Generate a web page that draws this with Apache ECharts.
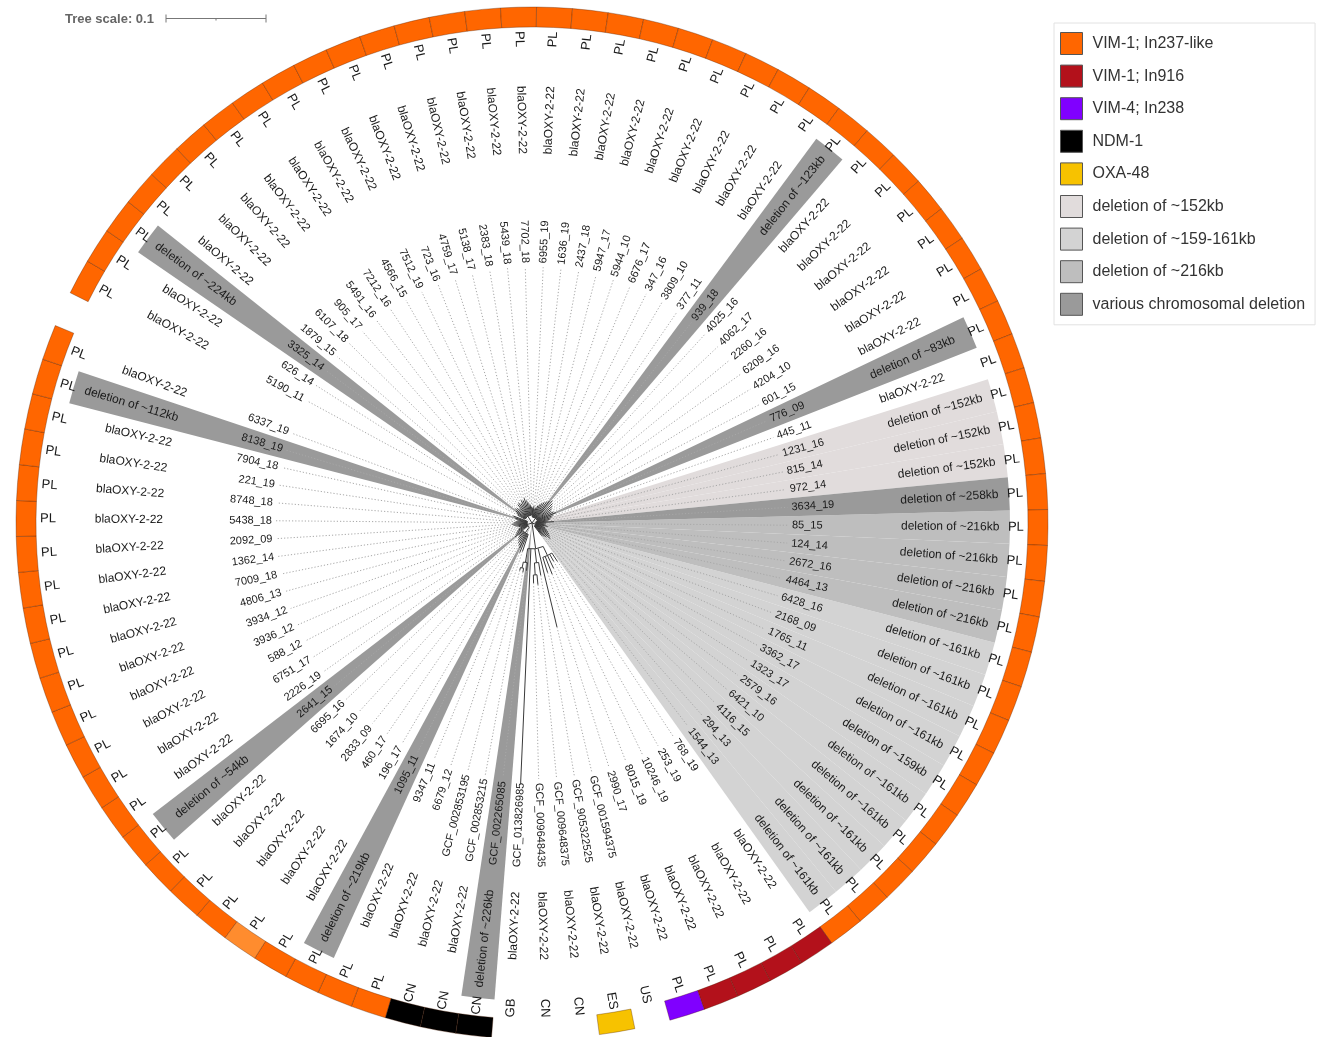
<!DOCTYPE html>
<html>
<head>
<meta charset="utf-8">
<title>blaOXY-2-22 phylogeny</title>
<script src="https://cdn.jsdelivr.net/npm/echarts@6.0.0/dist/echarts.min.js"></script>
<style>
  html, body { margin: 0; padding: 0; background: #fff; }
  #chart { width: 1319px; height: 1037px; }
</style>
</head>
<body>
<div id="chart"></div>
<script>
// Leaves in clockwise order, starting right after the gap in the circle.
const leafIds = [
  '5190_11','626_14','3325_14','1879_15','6107_18','905_17','5491_16','7212_16','4566_15','7512_19',
  '723_16','4759_17','5138_17','2383_18','5439_18','7702_18','6955_19','1636_19','2437_18','5947_17',
  '5944_10','6676_17','347_16','3809_10','377_11','939_18','4025_16','4062_17','2260_16','6209_16',
  '4204_10','601_15','776_09','445_11','1231_16','815_14','972_14','3634_19','85_15','124_14',
  '2672_16','4464_13','6428_16','2168_09','1765_11','3362_17','1323_17','2579_16','6421_10','4116_15',
  '294_13','1544_13','768_19','253_19','10246_19','8015_19','2990_17','GCF_001594375','GCF_905322525','GCF_009648375',
  'GCF_009648435','GCF_013826985','GCF_002265085','GCF_002853215','GCF_002853195','6679_12','9347_11','1095_11','196_17','460_17',
  '2833_09','1674_10','6695_16','2641_15','2226_19','6751_17','588_12','3936_12','3934_12','4806_13',
  '7009_18','1362_14','2092_09','5438_18','8748_18','221_19','7904_18','8138_19','6337_19'
];

const countries = [
  'PL','PL','PL','PL','PL','PL','PL','PL','PL','PL',
  'PL','PL','PL','PL','PL','PL','PL','PL','PL','PL',
  'PL','PL','PL','PL','PL','PL','PL','PL','PL','PL',
  'PL','PL','PL','PL','PL','PL','PL','PL','PL','PL',
  'PL','PL','PL','PL','PL','PL','PL','PL','PL','PL',
  'PL','PL','PL','PL','PL','PL','PL','US','ES','CN',
  'CN','GB','CN','CN','CN','PL','PL','PL','PL','PL',
  'PL','PL','PL','PL','PL','PL','PL','PL','PL','PL',
  'PL','PL','PL','PL','PL','PL','PL','PL','PL'
];

// Carbapenemase / integron class per leaf ('' = none)
const carbapenemase = [
  'I237','I237','I237','I237','I237','I237','I237','I237','I237','I237',
  'I237','I237','I237','I237','I237','I237','I237','I237','I237','I237',
  'I237','I237','I237','I237','I237','I237','I237','I237','I237','I237',
  'I237','I237','I237','I237','I237','I237','I237','I237','I237','I237',
  'I237','I237','I237','I237','I237','I237','I237','I237','I237','I237',
  'I237','I237','I916','I916','I916','I916','V4','','OXA','',
  '','','NDM','NDM','NDM','I237','I237','I237','I237','I237L',
  'I237','I237','I237','I237','I237','I237','I237','I237','I237','I237',
  'I237','I237','I237','I237','I237','I237','I237','I237','I237'
];

const B = 'blaOXY-2-22';
const geneLabels = [
  B,B,'deletion of ~224kb',B,B,B,B,B,B,B,
  B,B,B,B,B,B,B,B,B,B,
  B,B,B,B,B,'deletion of ~123kb',B,B,B,B,
  B,B,'deletion of ~83kb',B,'deletion of ~152kb','deletion of ~152kb','deletion of ~152kb','deletion of ~258kb','deletion of ~216kb','deletion of ~216kb',
  'deletion of ~216kb','deletion of ~216kb','deletion of ~161kb','deletion of ~161kb','deletion of ~161kb','deletion of ~161kb','deletion of ~159kb','deletion of ~161kb','deletion of ~161kb','deletion of ~161kb',
  'deletion of ~161kb','deletion of ~161kb',B,B,B,B,B,B,B,B,
  B,B,'deletion of ~226kb',B,B,B,B,'deletion of ~219kb',B,B,
  B,B,B,'deletion of ~54kb',B,B,B,B,B,B,
  B,B,B,B,B,B,B,'deletion of ~112kb',B
];

// Deletion class per leaf ('' = no shading)
const deletionClass = [
  '','','var','','','','','','','',
  '','','','','','','','','','',
  '','','','','','var','','','','',
  '','','var','','d152','d152','d152','var','d216','d216',
  'd216','d216','d161','d161','d161','d161','d161','d161','d161','d161',
  'd161','d161','','','','','','','','',
  '','','var','','','','','var','','',
  '','','','var','','','','','','',
  '','','','','','','','var',''
];

// Tip distance from the root (substitutions per site)
const leafDepth = [
  0.016,0.018,0.020,0.022,0.021,0.019,0.023,0.024,0.022,0.025,
  0.024,0.026,0.023,0.020,0.018,0.016,0.015,0.017,0.014,0.016,
  0.018,0.020,0.022,0.024,0.026,0.028,0.030,0.028,0.026,0.024,
  0.022,0.024,0.026,0.022,0.020,0.018,0.016,0.022,0.014,0.012,
  0.014,0.016,0.012,0.014,0.016,0.018,0.020,0.022,0.024,0.020,
  0.018,0.016,0.046,0.044,0.050,0.055,0.052,0.107,0.053,0.062,
  0.060,0.261,0.048,0.050,0.049,0.030,0.032,0.028,0.026,0.024,
  0.022,0.020,0.018,0.022,0.020,0.018,0.016,0.014,0.012,0.014,
  0.016,0.018,0.020,0.018,0.016,0.014,0.016,0.018,0.020
];

// Internal clades: [first leaf, last leaf, node depth]
const clades = [
  [0, 15, 0.008],
  [16, 33, 0.006],
  [34, 51, 0.004],
  [52, 64, 0.026],
  [52, 56, 0.036],
  [58, 60, 0.040],
  [59, 60, 0.052],
  [62, 64, 0.040],
  [63, 64, 0.046],
  [65, 88, 0.005],
  [65, 73, 0.012]
];

const ringClasses = [
  { key: 'I237', name: 'VIM-1; In237-like', color: '#ff6600' },
  { key: 'I237L', name: 'VIM-1; In237-like (variant)', color: '#ff8c2e' },
  { key: 'I916', name: 'VIM-1; In916', color: '#b3111b' },
  { key: 'V4',   name: 'VIM-4; In238', color: '#8000ff' },
  { key: 'NDM',  name: 'NDM-1', color: '#000000' },
  { key: 'OXA',  name: 'OXA-48', color: '#f7c200' }
];
const legendRing = ['I237', 'I916', 'V4', 'NDM', 'OXA'];
const deletionClasses = [
  { key: 'd152', name: 'deletion of ~152kb', color: '#e1dcdc' },
  { key: 'd161', name: 'deletion of ~159-161kb', color: '#d3d3d3' },
  { key: 'd216', name: 'deletion of ~216kb', color: '#bebebe' },
  { key: 'var',  name: 'various chromosomal deletion', color: '#9a9a9a' }
];

// ---- layout (radial axis is in tree units; 0.1 = scale bar) ----
const SLOTS = leafIds.length + 1;      // one empty slot leaves the gap
const RMAX = 0.516;
const R_WEDGE = 0.478, R_DOT_END = 0.256, R_ID = 0.260, R_GENE = 0.369, R_COUNTRY = 0.476;
const R_RING0 = 0.496, R_RING1 = 0.516;
const FONT = '"Liberation Sans", Arial, Helvetica, sans-serif';

function screenAngle(api, cs, a) {
  const p = api.coord([RMAX, a]);
  return Math.atan2(p[1] - cs.cy, p[0] - cs.cx);
}
function pixRadius(api, cs, r) {
  const p = api.coord([r, 0.5]);
  return Math.hypot(p[0] - cs.cx, p[1] - cs.cy);
}
function spanAngles(api, cs, a0, a1) {
  const s = screenAngle(api, cs, a0);
  let e = screenAngle(api, cs, a1);
  while (e < s) e += Math.PI * 2;
  return [s, e];
}
function sectorEl(api, cs, r0, r1, a0, a1, style) {
  const [s, e] = spanAngles(api, cs, a0, a1);
  return {
    type: 'sector',
    shape: { cx: cs.cx, cy: cs.cy, r0: pixRadius(api, cs, r0), r: pixRadius(api, cs, r1), startAngle: s, endAngle: e, clockwise: true },
    style: style
  };
}
function radialText(api, cs, r, a, text, size, color) {
  const p = api.coord([r, a]);
  const sa = Math.atan2(p[1] - cs.cy, p[0] - cs.cx);
  const right = Math.cos(sa) >= 0;
  return {
    type: 'text', x: p[0], y: p[1],
    rotation: right ? -sa : Math.PI - sa,
    style: { text: text, fill: color, fontSize: size, fontFamily: FONT, align: right ? 'left' : 'right', verticalAlign: 'middle' }
  };
}

// ---- tree geometry from clades ----
function buildTreeSegments() {
  const root = [0, leafIds.length - 1, 0];
  const all = [root].concat(clades);
  const containerOf = (first, last, self) => {
    let best = null;
    all.forEach(c => {
      if (c === self) return;
      if (c[0] <= first && c[1] >= last) {
        if (c[0] === first && c[1] === last && self) return;
        if (!best || (c[1] - c[0]) < (best[1] - best[0])) best = c;
      }
    });
    return best;
  };
  const children = new Map(all.map(c => [c, []]));
  leafIds.forEach((_, i) => children.get(containerOf(i, i, null)).push({ leaf: i }));
  clades.forEach(c => children.get(containerOf(c[0], c[1], c)).push({ clade: c }));
  const angleOf = new Map();
  const nodeAngle = (n) => n.leaf !== undefined ? n.leaf + 0.5 : cladeAngle(n.clade);
  function cladeAngle(c) {
    if (angleOf.has(c)) return angleOf.get(c);
    const as = children.get(c).map(nodeAngle);
    const a = (Math.min(...as) + Math.max(...as)) / 2;
    angleOf.set(c, a);
    return a;
  }
  const segs = [];
  all.forEach(c => {
    const as = children.get(c).map(nodeAngle);
    if (c !== root) segs.push({ kind: 'arc', r: c[2], a0: Math.min(...as), a1: Math.max(...as) });
    children.get(c).forEach(ch => {
      const a = nodeAngle(ch);
      const r1 = ch.leaf !== undefined ? leafDepth[ch.leaf] : ch.clade[2];
      segs.push({ kind: 'radial', a: a, r0: c[2], r1: r1 });
    });
  });
  return segs;
}
const treeSegments = buildTreeSegments();

const leafIndex = leafIds.map((_, i) => i);
const polarCommon = { coordinateSystem: 'polar', animation: false, silent: true };

const series = [];

// shaded deletion wedges
deletionClasses.forEach(dc => {
  series.push(Object.assign({}, polarCommon, {
    type: 'custom', name: dc.name, z: 1,
    itemStyle: { color: dc.color },
    data: leafIndex.filter(i => deletionClass[i] === dc.key).map(i => [R_WEDGE, i + 0.5]),
    renderItem: (params, api) => {
      const a = api.value(1);
      return sectorEl(api, params.coordSys, 0, R_WEDGE, a - 0.5, a + 0.5, { fill: dc.color });
    }
  }));
});

// dotted guides from tips to the id labels
series.push(Object.assign({}, polarCommon, {
  type: 'custom', name: 'guides', z: 2,
  data: leafIndex.map(i => [leafDepth[i], i + 0.5]),
  renderItem: (params, api) => {
    const i = params.dataIndex;
    if (leafDepth[i] >= R_DOT_END) return null;
    const p0 = api.coord([leafDepth[i], i + 0.5]);
    const p1 = api.coord([R_DOT_END, i + 0.5]);
    return { type: 'line', shape: { x1: p0[0], y1: p0[1], x2: p1[0], y2: p1[1] },
      style: { stroke: '#a8a8a8', lineWidth: 1, lineDash: [1.2, 2] } };
  }
}));

// tree branches
series.push(Object.assign({}, polarCommon, {
  type: 'custom', name: 'tree', z: 3,
  data: treeSegments.map(s => s.kind === 'arc' ? [s.r, s.a0] : [s.r1, s.a]),
  renderItem: (params, api) => {
    const s = treeSegments[params.dataIndex];
    const cs = params.coordSys;
    const st = { stroke: '#3a3a3a', lineWidth: 1, fill: null };
    if (s.kind === 'arc') {
      if (s.r <= 0) return null;
      const [sa, ea] = spanAngles(api, cs, s.a0, s.a1);
      return { type: 'arc', shape: { cx: cs.cx, cy: cs.cy, r: pixRadius(api, cs, s.r), startAngle: sa, endAngle: ea, clockwise: true }, style: st };
    }
    const p0 = api.coord([s.r0, s.a]);
    const p1 = api.coord([s.r1, s.a]);
    return { type: 'line', shape: { x1: p0[0], y1: p0[1], x2: p1[0], y2: p1[1] }, style: st };
  }
}));

// leaf labels: id, gene / deletion, country
series.push(Object.assign({}, polarCommon, {
  type: 'custom', name: 'labels', z: 5,
  data: leafIndex.map(i => [R_COUNTRY, i + 0.5]),
  renderItem: (params, api) => {
    const i = params.dataIndex, cs = params.coordSys, a = i + 0.5;
    return { type: 'group', children: [
      radialText(api, cs, R_ID, a, leafIds[i], 11, '#1a1a1a'),
      radialText(api, cs, R_GENE, a, geneLabels[i], 12, '#1a1a1a'),
      radialText(api, cs, R_COUNTRY, a, countries[i], 13, '#1a1a1a')
    ] };
  }
}));

// outer ring
ringClasses.forEach(rc => {
  series.push(Object.assign({}, polarCommon, {
    type: 'custom', name: rc.name, z: 6,
    itemStyle: { color: rc.color },
    data: leafIndex.filter(i => carbapenemase[i] === rc.key).map(i => [R_RING1, i + 0.5]),
    renderItem: (params, api) => {
      const a = api.value(1);
      return sectorEl(api, params.coordSys, R_RING0, R_RING1, a - 0.5, a + 0.5,
        { fill: rc.color, stroke: 'rgba(70,25,0,0.55)', lineWidth: 0.6 });
    }
  }));
});

const chart = echarts.init(document.getElementById('chart'), null, { renderer: 'canvas' });
const scaleLen = 0.1 / RMAX * 516;
chart.setOption({
  animation: false,
  backgroundColor: '#ffffff',
  polar: { center: [532, 523], radius: 516 },
  angleAxis: { type: 'value', min: 0, max: SLOTS, startAngle: 153.5, clockwise: true, show: false,
    axisLine: { show: false }, splitLine: { show: false }, axisTick: { show: false }, axisLabel: { show: false } },
  radiusAxis: { type: 'value', min: 0, max: RMAX, show: false,
    axisLine: { show: false }, splitLine: { show: false }, axisTick: { show: false }, axisLabel: { show: false } },
  legend: {
    orient: 'vertical', left: 1054, top: 23,
    data: ringClasses.filter(r => legendRing.includes(r.key)).map(r => r.name).concat(deletionClasses.map(d => d.name)),
    icon: 'rect', itemWidth: 22, itemHeight: 22, itemGap: 9.6,
    padding: [9, 10, 9, 6],
    borderColor: '#e2e2e2', borderWidth: 1, backgroundColor: '#ffffff',
    itemStyle: { borderColor: '#555', borderWidth: 1 },
    textStyle: { fontSize: 16, color: '#333', fontFamily: FONT, padding: [0, 0, 0, 5] },
    selectedMode: false
  },
  graphic: [{
    type: 'group', left: 65, top: 12, silent: true,
    children: [
      { type: 'text', x: 0, y: 8, style: { text: 'Tree scale: 0.1', fill: '#666', fontSize: 13, fontWeight: 'bold', fontFamily: FONT, verticalAlign: 'middle' } },
      { type: 'line', shape: { x1: 101, y1: 7, x2: 101 + scaleLen, y2: 7 }, style: { stroke: '#777', lineWidth: 1 } },
      { type: 'line', shape: { x1: 101, y1: 3, x2: 101, y2: 11 }, style: { stroke: '#777', lineWidth: 1 } },
      { type: 'line', shape: { x1: 101 + scaleLen, y1: 3, x2: 101 + scaleLen, y2: 11 }, style: { stroke: '#777', lineWidth: 1 } },
      { type: 'line', shape: { x1: 101 + scaleLen / 2, y1: 7, x2: 101 + scaleLen / 2, y2: 9 }, style: { stroke: '#777', lineWidth: 1 } }
    ]
  }],
  series: series
});
</script>
</body>
</html>
